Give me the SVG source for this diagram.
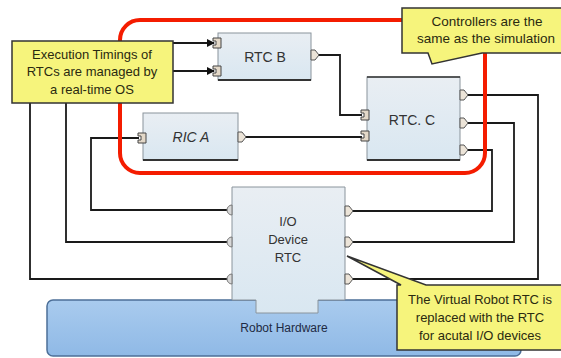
<svg xmlns="http://www.w3.org/2000/svg" width="561" height="358" viewBox="0 0 561 358">
  <style>
    text { font-family: "Liberation Sans", Arial, sans-serif; fill: #222; text-anchor: middle; }
    .note { fill: #f6f47c; stroke: #333; stroke-width: 1.5; }
    .rtc { fill: url(#rtcFill); stroke: #8a949c; stroke-width: 1; }
    .rtc-edge { stroke: #333; stroke-width: 2; }
    .wire { fill: none; stroke: #1a1a1a; stroke-width: 1.8; }
    .frame { fill: none; stroke: #f41c00; stroke-width: 4; }
    .lbl { font-size: 14px; fill: #333; }
    .ntxt { font-size: 13px; fill: #2a2a10; }
  </style>
  <defs>
    <linearGradient id="rtcFill" x1="0" y1="0" x2="0" y2="1">
      <stop offset="0" stop-color="#e9eef3"/>
      <stop offset="1" stop-color="#d9e7f1"/>
    </linearGradient>
    <linearGradient id="hwFill" x1="0" y1="0" x2="0" y2="1">
      <stop offset="0" stop-color="#a9cbee"/>
      <stop offset="1" stop-color="#8fb9e6"/>
    </linearGradient>
    <marker id="arrow" markerWidth="8" markerHeight="8" refX="7" refY="4" orient="auto" markerUnits="userSpaceOnUse">
      <path d="M0,0 L8,4 L0,8 Z" fill="#111"/>
    </marker>
    <!-- input port: small cup opening to the left -->
    <path id="inPort" d="M0,-5 H8 V5 H0 V2 H3 V-2 H0 Z" fill="#e3d8c8" stroke="#444" stroke-width="1"/>
    <!-- output port: pentagon pointing right -->
    <path id="outPort" d="M0,-5 H4 L8,0 L4,5 H0 Z" fill="#ece4d8" stroke="#555" stroke-width="1"/>
    <!-- round input port on the device component -->
    <path id="bumpPort" d="M6,-5 A5,5 0 0 0 6,5 Z" fill="#d8d8d8" stroke="#777" stroke-width="1"/>
  </defs>

  <rect width="561" height="358" fill="#ffffff"/>

  <!-- robot hardware base -->
  <g id="robot-hardware">
    <rect x="47" y="300" width="474" height="56" rx="6" fill="url(#hwFill)" stroke="#4c6f98" stroke-width="1.5"/>
    <text x="284" y="332" style="font-size:12px; fill:#1e2a44">Robot Hardware</text>
  </g>

  <!-- device component sitting on the hardware -->
  <g id="io-device-rtc">
    <path d="M232,187 H345 V300 H318 V313 H256 V300 H232 Z" fill="url(#rtcFill)" stroke="#8a949c" stroke-width="1"/>
    <text class="lbl" x="288" y="226" style="font-size:13px">I/O</text>
    <text class="lbl" x="288" y="244" style="font-size:13px">Device</text>
    <text class="lbl" x="288" y="262" style="font-size:13px">RTC</text>
  </g>

  <!-- connectors -->
  <g id="connectors">
    <path class="wire" d="M173,43 H214" marker-end="url(#arrow)"/>
    <path class="wire" d="M173,71 H214" marker-end="url(#arrow)"/>
    <path class="wire" d="M318,55 H340 V115 H362"/>
    <path class="wire" d="M246,137 H362"/>
    <path class="wire" d="M30,103 V279 H228"/>
    <path class="wire" d="M66,103 V242 H228"/>
    <path class="wire" d="M228,210 H91 V138 H139"/>
    <path class="wire" d="M468,95 H538 V279 H353"/>
    <path class="wire" d="M468,123 H514 V242 H353"/>
    <path class="wire" d="M468,150 H492 V211 H353"/>
  </g>

  <!-- device ports -->
  <g id="io-device-ports">
    <use href="#bumpPort" x="226" y="210"/>
    <use href="#bumpPort" x="226" y="242"/>
    <use href="#bumpPort" x="226" y="279"/>
    <use href="#outPort" x="345" y="211"/>
    <use href="#outPort" x="345" y="242"/>
    <use href="#outPort" x="345" y="279"/>
  </g>

  <g id="rtc-b">
    <rect class="rtc" x="218" y="33" width="93" height="47"/>
    <line class="rtc-edge" x1="218" y1="80" x2="311" y2="80"/>
    <use href="#inPort" x="213" y="43"/>
    <use href="#inPort" x="213" y="71"/>
    <use href="#outPort" x="311" y="55"/>
    <text class="lbl" x="265" y="62">RTC  B</text>
  </g>

  <g id="rtc-a">
    <rect class="rtc" x="143" y="113" width="95" height="47"/>
    <line class="rtc-edge" x1="143" y1="160" x2="238" y2="160"/>
    <use href="#inPort" x="138" y="138"/>
    <use href="#outPort" x="238" y="137"/>
    <text class="lbl" x="191" y="142" style="font-style:italic">RIC  A</text>
  </g>

  <g id="rtc-c">
    <rect class="rtc" x="367" y="77" width="93" height="83"/>
    <line class="rtc-edge" x1="367" y1="77" x2="460" y2="77" style="stroke-width:1.5"/>
    <line class="rtc-edge" x1="367" y1="160" x2="460" y2="160"/>
    <use href="#inPort" x="361" y="115"/>
    <use href="#inPort" x="361" y="136"/>
    <use href="#outPort" x="460" y="95"/>
    <use href="#outPort" x="460" y="123"/>
    <use href="#outPort" x="460" y="150"/>
    <text class="lbl" x="412" y="125">RTC. C</text>
  </g>

  <!-- red boundary around the controller components -->
  <g id="controller-boundary">
    <rect class="frame" x="120" y="20" width="365" height="153" rx="20"/>
  </g>

  <!-- annotation notes -->
  <g id="note-timing">
    <rect class="note" x="12" y="41" width="161" height="62"/>
    <text class="ntxt" x="92" y="59">Execution Timings of</text>
    <text class="ntxt" x="92" y="76">RTCs are managed by</text>
    <text class="ntxt" x="92" y="94">a real-time OS</text>
  </g>

  <g id="note-controllers">
    <path class="note" d="M402,8 H566 V53 H482 L432,64 L428,53 H402 Z"/>
    <text class="ntxt" x="487" y="26" style="font-size:13.5px">Controllers are the</text>
    <text class="ntxt" x="486" y="43" style="font-size:13.5px">same as the simulation</text>
  </g>

  <g id="note-replaced">
    <path class="note" d="M397,285 H401 L347,256 L426,285 H566 V350 H397 Z"/>
    <text class="ntxt" x="480" y="304">The Virtual Robot RTC is</text>
    <text class="ntxt" x="480" y="322">replaced with the RTC</text>
    <text class="ntxt" x="480" y="340">for acutal I/O devices</text>
  </g>
</svg>
